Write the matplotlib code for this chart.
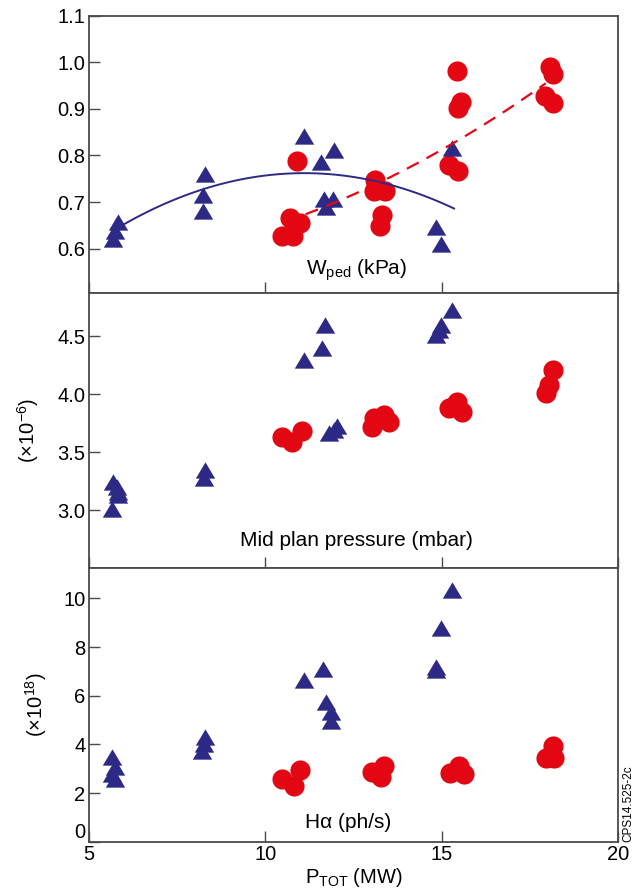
import numpy as np
import matplotlib
matplotlib.use("Agg")
import matplotlib.pyplot as plt

plt.rcParams['font.family'] = ['Liberation Sans', 'DejaVu Sans']
plt.rcParams['mathtext.fontset'] = 'custom'
plt.rcParams['mathtext.rm'] = 'Liberation Sans'
plt.rcParams['mathtext.it'] = 'Liberation Sans:italic'
plt.rcParams['mathtext.default'] = 'regular'

AZUL = '#2d2a86'
VERMELHO = '#e30613'
BORDA = '#4a4a4a'

# W_ped (kPa) - triangulos
wped_tri_x = [5.69, 5.74, 5.82, 8.22, 8.22, 8.30, 11.09, 11.59, 11.94, 11.66, 11.91, 11.72, 15.30, 14.83, 14.97]
wped_tri_y = [0.621, 0.639, 0.657, 0.681, 0.715, 0.760, 0.842, 0.786, 0.812, 0.706, 0.706, 0.689, 0.815, 0.646, 0.611]
# W_ped (kPa) - circulos
wped_cir_x = [10.90, 10.71, 10.99, 10.47, 10.78, 13.10, 13.08, 13.39, 13.31, 13.24,
              15.42, 15.56, 15.46, 15.21, 15.46, 18.07, 18.16, 17.93, 18.17]
wped_cir_y = [0.788, 0.665, 0.656, 0.627, 0.627, 0.747, 0.723, 0.723, 0.672, 0.649,
              0.982, 0.915, 0.901, 0.779, 0.767, 0.989, 0.975, 0.928, 0.912]

# curvas de ajuste (coeficientes do polinomio e intervalo)
ajuste_azul = [-0.0042, 0.09324, 0.24452]
ajuste_azul_x = [5.97, 15.35]
ajuste_verm = [0.00184, -0.0123, 0.5826]
ajuste_verm_x = [11.14, 17.95]

# Mid plan pressure (x1e-6 mbar)
press_tri_x = [5.69, 5.78, 5.83, 5.82, 5.64, 8.30, 8.25, 11.70, 11.61, 11.09,
               15.30, 14.97, 14.92, 14.83, 12.02, 11.94, 11.80]
press_tri_y = [3.24, 3.20, 3.16, 3.13, 3.01, 3.347, 3.276, 4.597, 4.397, 4.296,
               4.727, 4.597, 4.554, 4.511, 3.73, 3.692, 3.664]
press_cir_x = [10.47, 10.76, 11.04, 13.03, 13.08, 13.35, 13.50, 15.21, 15.44, 15.58, 18.17, 18.05, 17.95]
press_cir_y = [3.635, 3.591, 3.684, 3.72, 3.793, 3.822, 3.764, 3.885, 3.936, 3.85, 4.209, 4.08, 4.008]

# H-alpha (x1e18 ph/s)
ha_tri_x = [5.64, 5.74, 5.64, 5.74, 8.30, 8.27, 8.20, 11.09, 11.64, 11.73, 11.87, 11.85,
            15.30, 14.97, 14.83, 14.85]
ha_tri_y = [3.47, 3.06, 2.79, 2.58, 4.29, 4.02, 3.74, 6.65, 7.08, 5.73, 5.32, 4.98,
            10.33, 8.79, 7.17, 7.07]
ha_cir_x = [10.47, 10.97, 10.80, 13.03, 13.36, 13.27, 15.24, 15.49, 15.63, 18.17, 17.95, 18.19]
ha_cir_y = [2.58, 2.95, 2.30, 2.88, 3.13, 2.65, 2.81, 3.13, 2.79, 3.95, 3.44, 3.44]

triangulo = [(-1, -0.84), (1, -0.84), (0, 0.84), (-1, -0.84)]


def configurarEixo(ax, ylim, yticks, ylabels):
    ax.set_xlim(5, 20)
    ax.set_ylim(*ylim)
    ax.set_yticks(yticks)
    ax.set_yticklabels(ylabels)
    ax.set_xticks([5, 10, 15, 20])
    ax.tick_params(axis='both', direction='in', length=8, width=1.0, color=BORDA,
                   labelsize=14.5, pad=2.5)
    for lado in ax.spines.values():
        lado.set_color(BORDA)
        lado.set_linewidth(1.3)


def pontos(ax, tx, ty, cx, cy):
    ax.plot(tx, ty, linestyle='none', marker=triangulo, markersize=14,
            color=AZUL, markeredgewidth=0, zorder=3)
    ax.plot(cx, cy, linestyle='none', marker='o', markersize=14.5,
            color=VERMELHO, markeredgewidth=0, zorder=2)


fig = plt.figure(figsize=(6.39, 8.93), dpi=100)
ax1 = fig.add_axes([0.1393, 0.6719, 0.8279, 0.3107])
ax2 = fig.add_axes([0.1393, 0.3639, 0.8279, 0.3080])
ax3 = fig.add_axes([0.1393, 0.0574, 0.8279, 0.3065])

# painel 1
pontos(ax1, wped_tri_x, wped_tri_y, wped_cir_x, wped_cir_y)
xa = np.linspace(ajuste_azul_x[0], ajuste_azul_x[1], 100)
ax1.plot(xa, np.polyval(ajuste_azul, xa), color=AZUL, linewidth=1.4, zorder=4)
xv = np.linspace(ajuste_verm_x[0], ajuste_verm_x[1], 100)
ax1.plot(xv, np.polyval(ajuste_verm, xv), color=VERMELHO, linewidth=1.6,
         dashes=(6, 4), zorder=4)
configurarEixo(ax1, (0.505, 1.1), [0.6, 0.7, 0.8, 0.9, 1.0, 1.1],
               ['0.6', '0.7', '0.8', '0.9', '1.0', '1.1'])
ax1.set_xticklabels([])
ax1.text(0.505, 0.035, r'W$_{ped}$ (kPa)', transform=ax1.transAxes,
         ha='center', va='bottom', fontsize=15)

# painel 2
pontos(ax2, press_tri_x, press_tri_y, press_cir_x, press_cir_y)
configurarEixo(ax2, (2.5, 4.875), [3.0, 3.5, 4.0, 4.5], ['3.0', '3.5', '4.0', '4.5'])
ax2.set_xticklabels([])
ax2.text(0.505, 0.065, 'Mid plan pressure (mbar)', transform=ax2.transAxes,
         ha='center', va='bottom', fontsize=15)
ax2.set_ylabel('(×10$^{−6}$)', fontsize=14.5, labelpad=12)

# painel 3
pontos(ax3, ha_tri_x, ha_tri_y, ha_cir_x, ha_cir_y)
configurarEixo(ax3, (0, 11.25), [0, 2, 4, 6, 8, 10], ['0', '2', '4', '6', '8', '10'])
ax3.set_xticklabels(['5', '10', '15', '20'])
ax3.get_yticklabels()[0].set_va('bottom')
ax3.text(0.49, 0.035, 'Hα (ph/s)', transform=ax3.transAxes,
         ha='center', va='bottom', fontsize=15)
ax3.set_ylabel('(×10$^{18}$)', fontsize=14.5, labelpad=10)
ax3.set_xlabel('P$_{TOT}$ (MW)', fontsize=14.5, labelpad=1)

fig.text(0.983, 0.0574, 'CPS14.525-2c', rotation=90, ha='center', va='bottom', fontsize=8.5)

fig.savefig('out.png', dpi=100)
